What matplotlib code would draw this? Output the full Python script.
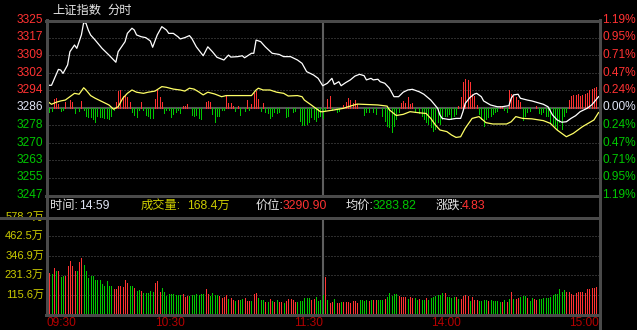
import matplotlib
matplotlib.use("Agg")
import matplotlib.pyplot as plt
import numpy as np
from matplotlib.lines import Line2D
from matplotlib.transforms import blended_transform_factory

plt.rcParams["font.family"] = ["Liberation Sans", "Noto Sans CJK SC"]

W, H = 637, 330
PREV_CLOSE = 3286.07
RANGE_PCT = 0.0119
VOL_MAX = 578.2

# white line: index value, sampled at minute positions (0 = 09:30, 120 = 11:30/13:00, 240 = 15:00)
PRICE_MIN = [0, 2, 5, 6, 7, 9, 10, 12, 13, 15,
             16, 17, 18, 19, 21, 24, 27, 30, 31, 34,
             35, 37, 38, 39, 41, 43, 45, 46, 48, 50,
             52, 53, 55, 57, 58, 60, 62, 63, 65, 68,
             70, 72, 74, 77, 79, 80, 83, 85, 86, 89,
             90, 91, 93, 95, 98, 101, 103, 106, 109, 111,
             113, 116, 118, 120, 122, 124, 125, 127, 128, 130,
             132, 134, 136, 138, 139, 141, 142, 144, 145, 147,
             149, 151, 153, 155, 157, 159, 162, 164, 167, 170,
             171, 172, 175, 178, 180, 181, 182, 184, 186, 187,
             189, 190, 193, 196, 198, 201, 202, 203, 205, 206,
             209, 211, 213, 216, 218, 220, 222, 224, 226, 228,
             230, 232, 235, 237, 238, 240]
PRICE_VAL = [3296.0, 3296.0, 3303.1, 3302.8, 3301.3, 3305.1, 3311.0, 3314.0, 3312.5, 3318.5,
             3324.1, 3323.7, 3320.7, 3318.5, 3316.2, 3312.5, 3309.5, 3306.3, 3311.0, 3315.5,
             3319.2, 3321.5, 3320.7, 3318.5, 3317.7, 3317.3, 3315.8, 3313.0, 3318.5, 3322.2,
             3320.7, 3319.2, 3319.2, 3317.7, 3316.7, 3317.3, 3318.2, 3317.0, 3313.2, 3309.2,
             3313.2, 3311.0, 3308.5, 3307.3, 3309.5, 3308.6, 3308.8, 3309.2, 3308.3, 3310.3,
             3310.3, 3316.2, 3315.5, 3313.2, 3310.3, 3309.8, 3308.8, 3308.8, 3307.3, 3305.8,
             3302.1, 3300.6, 3299.1, 3295.8, 3296.9, 3299.1, 3296.4, 3297.6, 3295.8, 3297.2,
             3298.4, 3300.1, 3300.9, 3300.3, 3298.4, 3299.1, 3298.4, 3298.7, 3297.6, 3296.9,
             3294.7, 3290.9, 3290.9, 3292.9, 3293.9, 3294.2, 3293.1, 3292.0, 3289.4, 3285.7,
             3282.7, 3281.2, 3280.7, 3281.2, 3281.2, 3284.2, 3287.9, 3290.5, 3292.1, 3292.4,
             3290.9, 3289.0, 3287.2, 3286.4, 3286.4, 3286.9, 3290.2, 3291.7, 3292.0, 3290.2,
             3289.4, 3289.0, 3288.4, 3287.5, 3286.4, 3282.7, 3280.5, 3279.5, 3279.7, 3281.2,
             3282.4, 3284.2, 3285.7, 3287.2, 3288.4, 3290.9]

# yellow line
AVG_MIN = [0, 2, 4, 6, 8, 10, 12, 14, 16, 17,
           19, 21, 24, 27, 29, 31, 33, 35, 37, 39,
           42, 44, 47, 50, 52, 55, 58, 60, 62, 64,
           66, 68, 70, 73, 76, 78, 89, 91, 92, 94,
           97, 100, 103, 105, 109, 111, 112, 115, 117, 119,
           120, 125, 129, 131, 135, 144, 148, 149, 152, 155,
           158, 162, 165, 167, 169, 171, 174, 176, 178, 180,
           182, 185, 188, 191, 194, 200, 202, 204, 207, 211,
           216, 219, 222, 226, 229, 233, 238, 240]
AVG_VAL = [3289.0, 3287.5, 3288.4, 3289.0, 3289.4, 3290.9, 3292.4, 3292.0, 3294.9, 3293.9,
           3291.4, 3290.2, 3288.7, 3287.2, 3285.3, 3286.4, 3290.2, 3292.4, 3293.9, 3292.9,
           3292.4, 3292.9, 3293.4, 3295.4, 3295.1, 3294.3, 3293.9, 3293.4, 3294.7, 3294.3,
           3293.1, 3291.7, 3292.9, 3292.1, 3290.9, 3291.4, 3291.4, 3293.9, 3294.7, 3293.9,
           3293.9, 3292.9, 3292.4, 3291.2, 3291.4, 3290.9, 3289.4, 3287.2, 3285.7, 3284.2,
           3284.2, 3285.0, 3285.7, 3286.4, 3287.6, 3287.2, 3286.7, 3285.0, 3282.5, 3283.0,
           3284.2, 3283.7, 3283.4, 3281.2, 3278.3, 3276.0, 3275.3, 3273.8, 3272.7, 3273.0,
           3276.8, 3281.2, 3282.0, 3279.3, 3278.7, 3278.7, 3279.7, 3282.0, 3281.2, 3281.0,
           3280.2, 3279.0, 3276.0, 3273.0, 3274.5, 3277.5, 3280.5, 3283.8]

# red / green strength bars around the zero line (arbitrary units, 87.5 = full half-panel)
FLOW_MIN = [1, 2, 3, 4, 5, 6, 7, 8, 10, 11, 12, 14, 15, 16, 17, 18, 19, 20, 21, 22,
            23, 24, 25, 26, 27, 28, 29, 30, 31, 32, 33, 34, 35, 36, 37, 38, 39, 40, 41, 42,
            43, 44, 45, 46, 47, 48, 49, 50, 51, 52, 53, 54, 55, 56, 57, 58, 59, 60, 61, 63,
            64, 65, 66, 67, 69, 70, 71, 72, 73, 74, 75, 76, 77, 78, 79, 80, 81, 82, 83, 84,
            86, 87, 88, 89, 90, 91, 92, 93, 94, 95, 96, 97, 98, 99, 100, 101, 104, 105, 107, 108,
            110, 111, 112, 113, 114, 115, 116, 117, 118, 119, 120, 121, 122, 123, 124, 126, 127, 129, 130, 131,
            132, 133, 134, 135, 138, 139, 140, 142, 143, 146, 147, 148, 149, 150, 151, 152, 153, 154, 155, 156,
            157, 158, 159, 160, 162, 163, 164, 165, 166, 167, 168, 169, 170, 171, 172, 173, 174, 175, 176, 177,
            178, 179, 180, 181, 182, 183, 184, 185, 186, 187, 188, 189, 190, 191, 192, 193, 194, 195, 196, 197,
            198, 199, 200, 201, 202, 203, 204, 205, 206, 207, 208, 209, 210, 213, 214, 215, 216, 217, 218, 219,
            220, 221, 222, 223, 224, 225, 226, 227, 228, 229, 230, 231, 232, 233, 234, 235, 236, 237, 238, 239,
            240]
FLOW_VAL = [-4, -3, 8.7, 9.3, 3.7, -3.7, -2, 6, 8, 6, -5.3, -3, 7, -2, -8, -9, -9.7, -11.3, -14, -8,
            -9.7, -9.7, -10.7, -10.7, -11.3, -8, -2, 6, 17, 18, 12, 12.7, 10.3, 6, -4.7, -7.3, -9.7, -2, 6, -2,
            -7.3, -8, -10.7, -10.7, 8.7, 18.7, 10.3, 5.3, -5.7, -2, -2, -9.7, -6, -4, -2, -5, 2, 1.3, 3.7, -7.3,
            -8.7, -7, -10.7, -11.3, 5.3, 7, 6, -6.3, -14, -8, -8, -2.7, -2.3, 12, 4.7, 4.7, 1.3, -3, 2, -7.3,
            -3, 8, -2, 3.7, 14.7, 17, 8.7, -3, 4.3, -4.7, -5.3, -10.7, -8, -4.7, -5.3, -4, -9.7, -8, -4.7, -3,
            -13, -17.3, -17.3, -16.3, -14.7, -9.7, -11.3, -13, -9.7, -8, -10.7, -2, 8.7, 12, -2, -4, -3, 2.7, 6, 9.3,
            8, 4.7, 8, 3.7, -7.3, -4.7, -4.7, -4.7, -6.3, -8, -13, -18, -19.7, -24.7, -18, -11.3, -4.7, 4.7, 7, 4.7,
            11, 3.7, 4.7, -4.7, -5.3, -8, -11.3, -14.7, -16.3, -19.7, -23, -21, -14, -16.3, -11.3, -8, -8, -6.3, -11.3, -8,
            -6.3, 2, 10.3, 25.3, 28.7, 28, 25.3, 13.7, 12, 2.7, -6.3, -11.3, -18, -11.3, -9.7, -8, -6.3, -4.7, -3, 2,
            2, -2.3, -4.7, 18, 13.7, 12, 10.3, 8, 6, -12, -8, -4.7, -3, 2, -5.3, -6.3, -4.7, -8, -8.7, -14,
            -16.3, -18, -21.3, -14.7, -21.3, -8, -4.7, 8, 11.3, 12.7, 12.7, 13.3, 12, 12.7, 13.3, 14.7, 18, 19, 19.3, 20.3,
            19.3]

# volume per minute, in 万 (minutes 0..240)
VOLUME = [541, 242, 238, 276, 256, 256, 222, 226, 226, 288,
          316, 288, 256, 256, 312, 334, 292, 256, 217, 226,
          226, 203, 203, 203, 179, 167, 199, 167, 167, 147,
          147, 167, 167, 163, 203, 183, 167, 167, 153, 137,
          143, 137, 123, 123, 123, 137, 129, 187, 197, 133,
          153, 133, 109, 119, 119, 119, 113, 113, 113, 117,
          103, 109, 109, 113, 113, 119, 113, 117, 119, 149,
          119, 109, 127, 113, 113, 109, 93, 103, 113, 87,
          93, 83, 79, 83, 83, 87, 97, 79, 79, 79,
          117, 123, 97, 83, 83, 73, 73, 87, 79, 73,
          83, 73, 73, 64, 79, 89, 87, 83, 70, 70,
          77, 77, 93, 93, 93, 83, 87, 103,
          80, 83, 113, 222,
          83, 64, 73, 87, 64, 64, 70, 70, 70, 70,
          64, 77, 77, 64, 83, 83, 77, 83, 77, 83,
          83, 83, 83, 83, 83, 89, 103, 123, 107, 119,
          119, 107, 99, 99, 99, 89, 99, 93, 93, 83,
          89, 83, 83, 93, 83, 97, 103, 109, 113, 113,
          123, 123, 103, 99, 93, 99, 99, 87, 87, 107,
          113, 107, 79, 99, 83, 83, 79, 77, 83, 83,
          79, 83, 77, 77, 77, 73, 73, 83, 73, 89,
          131, 89, 89, 93, 103, 107, 107, 97, 79, 97,
          89, 83, 89, 89, 93, 97, 97, 103, 113, 119,
          119, 149, 133, 143, 133, 133, 119, 113, 127, 133,
          133, 133, 123, 149, 147, 157, 157, 163, 173]
# R = price up in that minute, G = down
VOLUME_DIR = ("RRGRGRGGRR" "RRRGRRGGGG" "GGGGGGGGGR" "RRRRRRGGRG" "GRGGGGGRRR"
              "GGGGGGGGGR" "RRGGGGGGGR" "RGGGGRRRRG" "RRGRGGRRRG" "RRGGGRGRGR"
              "GRRGRRRRRG" "GGGGGRRG"
              "GGGR"
              "GRRGRRGRRR" "RRRRGGGGRG" "RRGGGRGGGG" "GRRRRGRRGG" "RGGRGGGGGG"
              "GRGGGGRGRR" "RRGRRRGGGG" "RGGGGGRGRG" "RGRRGGGRGG" "RRGGGGGGGG"
              "GGGGRRRRRR" "RRRRRRRRR")

PRICE_LABELS = ["3325", "3317", "3309", "3302", "3294", "3286",
                "3278", "3270", "3263", "3255", "3247"]
PCT_LABELS = ["1.19%", "0.95%", "0.71%", "0.47%", "0.24%", "0.00%",
              "0.24%", "0.47%", "0.71%", "0.95%", "1.19%"]
VOL_LABELS = ["115.6万", "231.3万", "346.9万", "462.5万", "578.2万"]
TIME_TICKS = [0, 60, 120, 180, 240]
TIME_LABELS = ["09:30", "10:30", "11:30", "14:00", "15:00"]

RED = "#ff3232"
GREEN = "#00c800"
YELLOW_TXT = "#cccc00"
FRAME = "#4a4a4a"
GRID = "#5a5a5a"
WHITE_TXT = "#dfe4f4"
CJK = ["Noto Sans CJK SC", "DejaVu Sans"]
MIXED = ["Liberation Sans", "Noto Sans CJK SC"]
BAR_LW = 0.55


def fx(px):
    return px / W


def fy(py):
    return 1 - py / H


def frame_line(fig, x0, y0, x1, y1, color=FRAME, lw=0.8):
    fig.add_artist(Line2D([fx(x0), fx(x1)], [fy(y0), fy(y1)], transform=fig.transFigure,
                          color=color, lw=lw, antialiased=False))


def main():
    fig = plt.figure(figsize=(W / 100, H / 100), dpi=100, facecolor="black")
    ax = fig.add_axes([fx(46), fy(195), (599 - 46) / W, 175 / H])
    axv = fig.add_axes([fx(46), fy(314), (599 - 46) / W, 97 / H])
    for a in (ax, axv):
        a.set_facecolor("black")
        a.set_xlim(-0.4, 240.2)
        a.set_xticks([])
        a.set_yticks([])
        for s in a.spines.values():
            s.set_visible(False)

    half = PREV_CLOSE * RANGE_PCT
    lo, hi = PREV_CLOSE - half, PREV_CLOSE + half
    ax.set_ylim(lo, hi)
    levels = np.linspace(hi, lo, len(PRICE_LABELS))

    for i, lev in enumerate(levels):
        if 0 < i < len(levels) - 1 and i != 5:
            ax.axhline(lev, color=GRID, lw=0.72, linestyle=(0, (1, 2)), zorder=1)
        color = RED if i < 5 else (WHITE_TXT if i == 5 else GREEN)
        ax.text(-2.5 / 553, lev, PRICE_LABELS[i], transform=ax.get_yaxis_transform(),
                ha="right", va="center", color=color, fontsize=8.6, clip_on=False)
        ax.text(1 + 3.5 / 553, lev, PCT_LABELS[i], transform=ax.get_yaxis_transform(),
                ha="left", va="center", color=color, fontsize=8.6, clip_on=False)
    ax.axhline(PREV_CLOSE, color="#555555", lw=1.5, zorder=1)

    flow_scale = half / 87.5
    flow = np.array(FLOW_VAL)
    ax.vlines(FLOW_MIN, PREV_CLOSE, PREV_CLOSE + flow * flow_scale,
              colors=[RED if v > 0 else GREEN for v in flow], lw=BAR_LW, zorder=2,
              antialiased=False)
    ax.plot(AVG_MIN, AVG_VAL, color="#ffff66", lw=0.9, zorder=3)
    ax.plot(PRICE_MIN, PRICE_VAL, color="white", lw=0.9, zorder=4)

    # volume panel
    axv.set_ylim(0, VOL_MAX)
    vol_levels = np.linspace(0, VOL_MAX, 6)[1:]
    for lev, lab in zip(vol_levels, VOL_LABELS):
        if lev < VOL_MAX:
            axv.axhline(lev, color=GRID, lw=0.72, linestyle=(0, (1, 2)), zorder=1)
        axv.text(-2 / 553, lev, lab, transform=axv.get_yaxis_transform(), ha="right",
                 va="center", color=YELLOW_TXT, fontsize=8.0, family=MIXED, clip_on=False)
    minutes = np.arange(len(VOLUME))
    axv.vlines(minutes, 0, VOLUME, colors=[RED if d == "R" else GREEN for d in VOLUME_DIR],
               lw=BAR_LW, zorder=2, antialiased=False)

    for a in (ax, axv):
        a.axvline(120, color="#5e5e5e", lw=1.5, zorder=1)

    # time axis labels
    time_tr = blended_transform_factory(axv.transData, fig.transFigure)
    for t, lab in zip(TIME_TICKS, TIME_LABELS):
        ha = "left" if t == 0 else "right"
        axv.text(t, fy(322.5), lab, transform=time_tr, ha=ha, va="center", color="#b40000",
                 fontsize=8.6, clip_on=False)

    # frame
    frame_line(fig, 46, 20.5, 599, 20.5)
    frame_line(fig, 46, 195.5, 599, 195.5)
    frame_line(fig, 0, 217.5, 599, 217.5)
    frame_line(fig, 46, 314.5, 599, 314.5)
    frame_line(fig, 46.5, 20, 46.5, 314.5)
    frame_line(fig, 599.5, 20, 599.5, 330)

    # title
    fig.text(fx(52), fy(10), "上证指数", family=CJK, fontsize=8.8, color="#e6e6e6",
             va="center", ha="left")
    fig.text(fx(107), fy(10), "分时", family=CJK, fontsize=8.8, color="#e6e6e6",
             va="center", ha="left")

    # info bar
    info_y = fy(206)
    pieces = [
        (50, "时间:", "#e6e6e6"), (79, "14:59", WHITE_TXT),
        (141, "成交量:", YELLOW_TXT), (187, "168.4万", YELLOW_TXT),
        (256, "价位:", "#e6e6e6"), (283, "3290.90", RED),
        (346, "均价:", "#e6e6e6"), (373, "3283.82", GREEN),
        (436, "涨跌:", "#e6e6e6"), (462, "4.83", RED),
    ]
    for x, s, c in pieces:
        fig.text(fx(x), info_y, s, family=MIXED, fontsize=8.8, color=c, va="center", ha="left")

    fig.savefig("out.png", dpi=100, facecolor="black")
    plt.close(fig)


if __name__ == "__main__":
    main()
